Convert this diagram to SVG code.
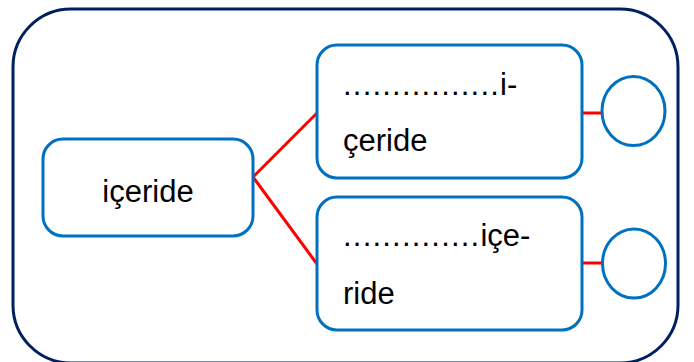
<svg xmlns="http://www.w3.org/2000/svg" width="694" height="362" viewBox="0 0 694 362">
<style>
.box{fill:#fff;stroke:#0070C0;stroke-width:3}
.outer{fill:#fff;stroke:#002060;stroke-width:3}
.conn{stroke:#FF0000;stroke-width:3;fill:none}
.t{font-family:"Liberation Sans",Arial,sans-serif;font-size:31px;fill:#000}
.dots{letter-spacing:1.2px}
</style>
<rect id="frame" class="outer" x="13" y="9" width="665" height="354" rx="58" ry="58"/>
<g id="connectors">
<polyline class="conn" points="317,113 253,177 317,264"/>
<line class="conn" x1="582" y1="113" x2="602" y2="113"/>
<line class="conn" x1="582" y1="263" x2="602" y2="263"/>
</g>
<g id="node-root">
<rect class="box" x="43" y="139" width="210" height="97" rx="20"/>
<text class="t" x="148" y="202" text-anchor="middle">içeride</text>
</g>
<g id="node-top">
<rect class="box" x="317" y="45" width="265" height="133" rx="20"/>
<text class="t" x="343" y="95"><tspan class="dots">................</tspan>i-</text>
<text class="t" x="343" y="151">çeride</text>
</g>
<g id="node-bottom">
<rect class="box" x="317" y="197" width="265" height="133" rx="20"/>
<text class="t" x="343" y="246"><tspan class="dots">..............</tspan>içe-</text>
<text class="t" x="343" y="304">ride</text>
</g>
<g id="circle-top">
<ellipse class="box" cx="633.5" cy="111" rx="31.5" ry="34.5"/>
</g>
<g id="circle-bottom">
<ellipse class="box" cx="634" cy="263.5" rx="31.5" ry="34.5"/>
</g>
</svg>
